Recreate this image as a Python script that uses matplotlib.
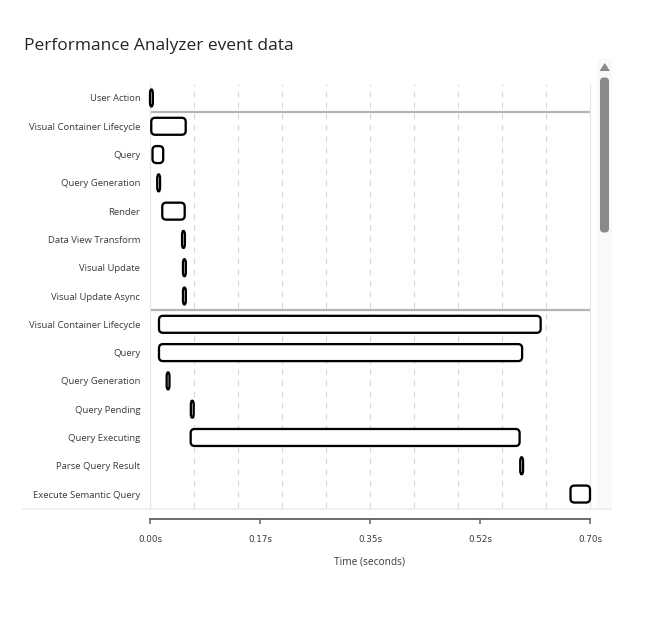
import matplotlib
matplotlib.use("Agg")
from matplotlib import pyplot as plt
from matplotlib.patches import FancyBboxPatch, Polygon
from matplotlib.lines import Line2D

# event rows, top to bottom
events = ["User Action", "Visual Container Lifecycle", "Query",
          "Query Generation", "Render", "Data View Transform",
          "Visual Update", "Visual Update Async",
          "Visual Container Lifecycle", "Query", "Query Generation",
          "Query Pending", "Query Executing", "Parse Query Result",
          "Execute Semantic Query"]
start_s = [0.000, 0.002, 0.004, 0.0115, 0.0195, 0.0510, 0.0525, 0.0525,
           0.0143, 0.0143, 0.0265, 0.0650, 0.0647, 0.5890, 0.6690]
dur_s = [0.0045, 0.0548, 0.017, 0.0045, 0.0357, 0.0045, 0.0045, 0.0045,
         0.6072, 0.5777, 0.0045, 0.0045, 0.5233, 0.0045, 0.031]
group_breaks = [0.5, 7.5]
grid_s = [0.07, 0.14, 0.21, 0.28, 0.35, 0.42, 0.49, 0.56, 0.63]
tick_s = [0.0, 0.175, 0.35, 0.525, 0.70]
tick_labels = ["0.00s", "0.17s", "0.35s", "0.52s", "0.70s"]

W, H = 645, 621
FONT = "Open Sans"
TXT = "#3a3a3a"

fig = plt.figure(figsize=(W / 100, H / 100), dpi=100)
ax = fig.add_axes([150 / W, 1 - 508.2 / H, 440 / W, 424.35 / H])
ax.set_xlim(0, 0.70)
ax.set_ylim(len(events) - 0.5, -0.5)

# dashed grid
for g in grid_s:
    ax.axvline(g, color="#d6d6d6", lw=0.8, ls=(0, (5, 5)), zorder=0)
for b in group_breaks:
    ax.axhline(b, color="#b4b4b4", lw=1.6, zorder=1)

# rounded bars, corner radius fixed in pixels
x_per_px = 0.70 / 440
y_per_px = len(events) / 424.35
r_px = 4.0
bar_h = 0.6
for i, (s, d) in enumerate(zip(start_s, dur_s)):
    rx = min(r_px * x_per_px, d / 2)
    aspect = (r_px * y_per_px) / rx
    p = FancyBboxPatch((s, i - bar_h / 2), d, bar_h,
                       boxstyle="round,pad=0,rounding_size=%f" % rx,
                       mutation_aspect=aspect, facecolor="white",
                       edgecolor="black", lw=1.65, zorder=3, clip_on=False)
    ax.add_patch(p)

ax.tick_params(axis="y", length=0, pad=7, labelsize=6.8, labelcolor=TXT)
ax.tick_params(axis="x", length=3.5, width=1.1, color="#606060", pad=7.5,
               labelsize=6.3, labelcolor=TXT)
ax.set_yticks(range(len(events)))
ax.set_yticklabels(events, fontsize=6.8, color=TXT, family=FONT)
ax.set_xticks(tick_s)
ax.set_xticklabels(tick_labels, fontsize=6.3, color=TXT, family=FONT)
ax.spines["bottom"].set_position(("outward", 8))
ax.spines["bottom"].set_color("#606060")
ax.spines["bottom"].set_linewidth(1.3)
ax.spines["top"].set_visible(False)
ax.spines["left"].set_color("#e4e4e4")
ax.spines["right"].set_color("#e4e4e4")
ax.set_xlabel("Time (seconds)", fontsize=7.3, color=TXT, family=FONT,
              labelpad=9)

# bottom border of the plot panel
fig.add_artist(Line2D([23 / W, 611 / W], [1 - 508.5 / H, 1 - 508.5 / H],
                      color="#ececec", lw=1.2))

# scrollbar
fig.add_artist(FancyBboxPatch((597 / W, 1 - 508 / H), 15 / W, 450 / H,
                              boxstyle="square,pad=0", facecolor="#f9f9f9",
                              edgecolor="none"))
fig.add_artist(FancyBboxPatch((600 / W, 1 - 232.5 / H), 9 / W, 155 / H,
                              boxstyle="round,pad=0,rounding_size=0.006",
                              mutation_aspect=W / H, facecolor="#8a8a8a",
                              edgecolor="none"))
fig.add_artist(Polygon([[599.5 / W, 1 - 71 / H], [610 / W, 1 - 71 / H],
                        [604.75 / W, 1 - 63 / H]], closed=True,
                       facecolor="#8a8a8a", edgecolor="none"))

fig.text(24 / W, 1 - 50 / H, "Performance Analyzer event data",
         fontsize=12.5, color="#252423", family=FONT, va="baseline")

fig.savefig("out.png", dpi=100)
